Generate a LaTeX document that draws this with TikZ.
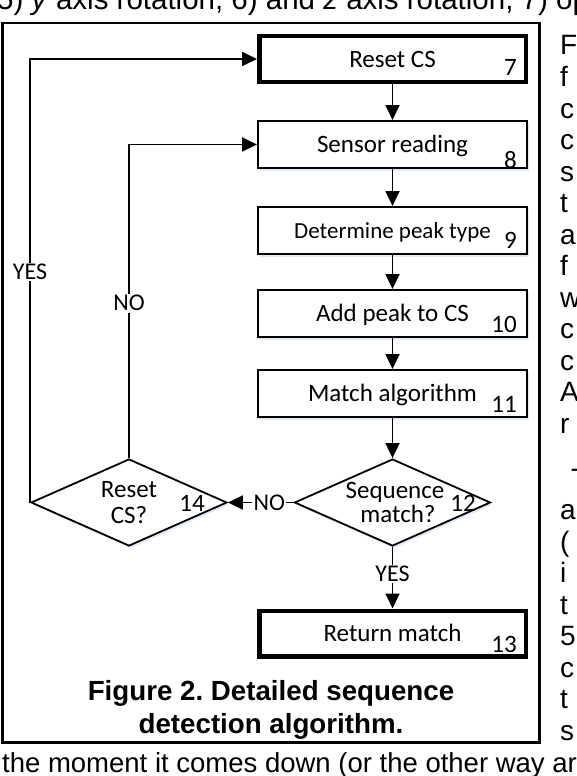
\documentclass[tikz,border=0pt]{standalone}
\usepackage{fontspec}
\setmainfont{Liberation Sans}
\newfontfamily\calfont{Carlito}
\usetikzlibrary{shapes.geometric,arrows.meta,shadows}
\definecolor{glow}{RGB}{226,234,245}
\frenchspacing
\begin{document}
\begin{tikzpicture}[x=1pt,y=-1pt,
  glowshadow/.style={drop shadow={shadow xshift=1.5pt,shadow yshift=-2.5pt,fill=glow,opacity=1}},
  conn/.style={line width=1.8pt,-{Triangle[length=15pt,width=14pt]}},
  proc/.style={draw,line width=1.7pt,fill=white,glowshadow,minimum width=269.3pt,minimum height=47.3pt,inner sep=0pt,
    font=\calfont\fontsize{25pt}{30pt}\selectfont,text height=16pt,text depth=0pt},
  term/.style={proc,line width=4.5pt,minimum width=266.5pt,minimum height=45.5pt},
  dec/.style={draw,diamond,line width=1.8pt,fill=white,glowshadow,minimum width=196pt,minimum height=87pt,inner sep=0pt},
  lbl/.style={font=\calfont\fontsize{25pt}{30pt}\selectfont,anchor=base,inner sep=0pt},
  num/.style={font=\calfont\fontsize{25pt}{30pt}\selectfont,anchor=base east,inner sep=0pt},
  yn/.style={fill=white,inner sep=1.5pt,font=\calfont\fontsize{24pt}{28pt}\selectfont},
  paper/.style={font=\fontsize{28pt}{32pt}\selectfont,anchor=base west,inner sep=0pt},
  captxt/.style={font=\bfseries\fontsize{27.7pt}{32pt}\selectfont,anchor=base,inner sep=0pt}
]
\useasboundingbox (0,0) rectangle (576,776);
\clip (0,0) rectangle (576,776);
\fill[white] (0,0) rectangle (576,776);

% surrounding page text
\node[paper,font=\fontsize{29.5pt}{32pt}\selectfont] (toptext) at (-3,10) {5) \textit{y} axis rotation, 6) and \textit{z} axis rotation, 7) ope};
\node[paper,font=\fontsize{27.5pt}{32pt}\selectfont] (bottext) at (2,772) {the moment it comes down (or the other way ar};
\foreach \l [count=\i from 0] in {F,f,c,c,s,t,a,f,w,c,c,A,r}
  \node[paper] (rca\i) at (560,55+31.5*\i) {\l};
\node[paper] (rcbT) at (571,488) {T};
\foreach \l [count=\i from 1] in {a,{(},i,t,5,c,t,s}
  \node[paper] (rcb\i) at (560,488+31.5*\i) {\l};

% frame
\draw[line width=2.2pt] (2.5,23) rectangle (539.5,742.5);

% boxes
\node[term] (b7)  at (392.5,59)    {Reset CS};
\node[proc] (b8)  at (392.5,144.5) {Sensor reading};
\node[proc,font=\calfont\fontsize{23pt}{28pt}\selectfont] (b9) at (392.5,230.5) {Determine peak type\hspace{18pt}};
\node[proc] (b10) at (392.5,313.5) {Add peak to CS};
\node[proc] (b11) at (392.5,393.5) {Match algorithm\hspace{6pt}};
\node[dec]  (d12) at (392.5,502.5) {};
\node[dec]  (d14) at (129,502.5) {};
\node[term] (b13) at (392.5,633.5) {Return match};

% diamond texts and numbers
\node[lbl] (t14a) at (129,497) {Reset};
\node[lbl] (t14b) at (129,523) {CS?};
\node[lbl] (n14)  at (192,511) {14};
\node[lbl] (t12a) at (395,498) {Sequence};
\node[lbl] (t12b) at (398,522) {match?};
\node[lbl] (n12)  at (463,511) {12};
\node[num] (n7)  at (517,75)  {7};
\node[num] (n8)  at (517,168) {8};
\node[num] (n9)  at (517,248) {9};
\node[num] (n10) at (517,332) {10};
\node[num] (n11) at (517,412) {11};
\node[num] (n13) at (517,652) {13};

% connectors
\draw[conn] (b7) -- (b8);
\draw[conn] (b8) -- (b9);
\draw[conn] (b9) -- (b10);
\draw[conn] (b10) -- (b11);
\draw[conn] (b11) -- (d12.north);
\draw[conn] (d12.south) -- node[yn,pos=0.44] (yes1) {YES} (b13.north);
\draw[conn] (d12.west) -- node[yn,pos=0.37] (no1) {NO} (d14.east);
\draw[conn] (d14.north) |- node[yn,pos=0.247] (no2) {NO} (b8.west);
\draw[conn] (d14.west) |- node[yn,pos=0.26] (yes2) {YES} (b7.west);

% caption
\node[captxt] (cap1) at (271,700) {Figure 2. Detailed sequence};
\node[captxt] (cap2) at (271,733) {detection algorithm.};
\end{tikzpicture}
\end{document}
